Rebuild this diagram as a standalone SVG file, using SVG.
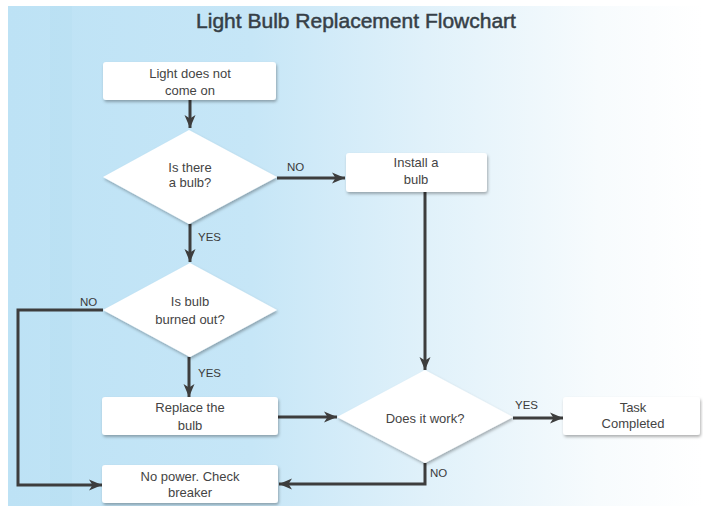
<svg xmlns="http://www.w3.org/2000/svg" width="703" height="506" viewBox="0 0 703 506">
  <defs>
    <linearGradient id="bg" x1="0" y1="0" x2="1" y2="0">
      <stop offset="0" stop-color="#bde2f5"/>
      <stop offset="0.35" stop-color="#c6e6f7"/>
      <stop offset="0.6" stop-color="#e0f1fa"/>
      <stop offset="0.85" stop-color="#f7fbfd"/>
      <stop offset="1" stop-color="#ffffff"/>
    </linearGradient>
    <filter id="sh" x="-10%" y="-20%" width="125%" height="150%">
      <feDropShadow dx="1" dy="2" stdDeviation="1.5" flood-color="#000" flood-opacity="0.3"/>
    </filter>
    <marker id="ah" markerUnits="userSpaceOnUse" markerWidth="14" markerHeight="12" refX="13" refY="6" orient="auto">
      <path d="M0,0.5 L13,6 L0,11.5 L3.5,6 Z" fill="#3d3d3d"/>
    </marker>
    <style>
      .box { fill: #ffffff; filter: url(#sh); }
      .dia { fill: #ffffff; filter: url(#sh); }
      .t { font-family: "Liberation Sans", Arial, sans-serif; font-size: 13px; fill: #444444; text-anchor: middle; }
      .lbl { font-family: "Liberation Sans", Arial, sans-serif; font-size: 11.5px; fill: #3a3a3a; }
      .c { fill: none; stroke: #3d3d3d; stroke-width: 3; }
      .title { font-family: "Liberation Sans", Arial, sans-serif; font-size: 21px; fill: #363f47; stroke: #363f47; stroke-width: 0.5; text-anchor: middle; }
    </style>
  </defs>

  <rect x="0" y="0" width="703" height="506" fill="#ffffff"/>
  <rect x="8" y="6" width="695" height="500" fill="url(#bg)"/>
  <rect x="50" y="6" width="22" height="500" fill="#b5ddf2" opacity="0.35"/>

  <text class="title" x="356" y="28">Light Bulb Replacement Flowchart</text>

  <g id="connectors">
    <path class="c" d="M190,100 L190,128" marker-end="url(#ah)"/>
    <path class="c" d="M277,178 L345,178" marker-end="url(#ah)"/>
    <path class="c" d="M190,224 L190,262" marker-end="url(#ah)"/>
    <path class="c" d="M425,192 L425,370" marker-end="url(#ah)"/>
    <path class="c" d="M103,310 L18,310 L18,485 L102,485" marker-end="url(#ah)"/>
    <path class="c" d="M189,357 L189,397" marker-end="url(#ah)"/>
    <path class="c" d="M278,417 L337,417" marker-end="url(#ah)"/>
    <path class="c" d="M513,418 L563,418" marker-end="url(#ah)"/>
    <path class="c" d="M425,463 L425,484 L279,484" marker-end="url(#ah)"/>
    <text class="lbl" x="287" y="171">NO</text>
    <text class="lbl" x="198" y="241">YES</text>
    <text class="lbl" x="80" y="306">NO</text>
    <text class="lbl" x="198" y="377">YES</text>
    <text class="lbl" x="515" y="409">YES</text>
    <text class="lbl" x="430" y="477">NO</text>
  </g>

  <g id="start">
    <rect class="box" x="103" y="62" width="173" height="38" rx="3"/>
    <text class="t" x="190" y="78">Light does not</text>
    <text class="t" x="190" y="95">come on</text>
  </g>

  <g id="is-there-bulb">
    <polygon class="dia" points="189,130 277,177 189,224 103,177"/>
    <text class="t" x="190" y="172">Is there</text>
    <text class="t" x="190" y="187">a bulb?</text>
  </g>

  <g id="install">
    <rect class="box" x="346" y="153" width="141" height="39" rx="3"/>
    <text class="t" x="416" y="167">Install a</text>
    <text class="t" x="416" y="184">bulb</text>
  </g>

  <g id="burned-out">
    <polygon class="dia" points="190,263 277,310 190,357 103,310"/>
    <text class="t" x="190" y="306">Is bulb</text>
    <text class="t" x="190" y="324">burned out?</text>
  </g>

  <g id="replace">
    <rect class="box" x="102" y="397" width="176" height="38" rx="3"/>
    <text class="t" x="190" y="412">Replace the</text>
    <text class="t" x="190" y="430">bulb</text>
  </g>

  <g id="no-power">
    <rect class="box" x="102" y="465" width="176" height="38" rx="3"/>
    <text class="t" x="190" y="481">No power. Check</text>
    <text class="t" x="190" y="497">breaker</text>
  </g>

  <g id="does-it-work">
    <polygon class="dia" points="425,370 513,417 425,463 337,417"/>
    <text class="t" x="425" y="423">Does it work?</text>
  </g>

  <g id="task">
    <rect class="box" x="563" y="397" width="137" height="38" rx="3"/>
    <text class="t" x="633" y="412">Task</text>
    <text class="t" x="633" y="428">Completed</text>
  </g>
</svg>
